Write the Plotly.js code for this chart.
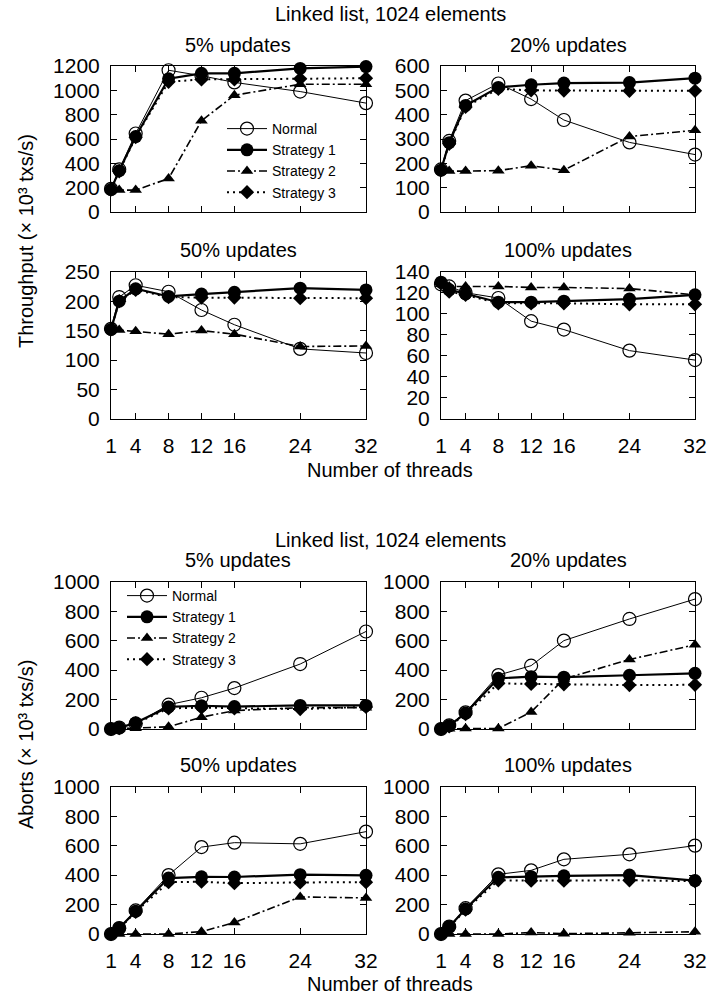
<!DOCTYPE html>
<html>
<head>
<meta charset="utf-8">
<script src="https://cdn.plot.ly/plotly-3.0.1.min.js"></script>
<style>html,body{margin:0;padding:0;background:#fff;} #chart{width:709px;height:1000px;}</style>
</head>
<body>
<div id="chart"></div>
<script>
// ---- data ----
const threads = [1, 2, 4, 8, 12, 16, 24, 32];
const threadTicks = [1, 4, 8, 12, 16, 24, 32];
const seriesNames = ["Normal", "Strategy 1", "Strategy 2", "Strategy 3"];

// Throughput (x10^3 txs/s)
const tp5_normal = [190, 350, 645, 1165, 1120, 1065, 990, 895];
const tp5_s1     = [185, 340, 620, 1095, 1140, 1140, 1180, 1195];
const tp5_s2     = [185, 180, 180, 275, 750, 960, 1050, 1050];
const tp5_s3     = [185, 335, 615, 1070, 1090, 1090, 1095, 1100];

const tp20_normal = [175, 292, 458, 528, 464, 378, 286, 236];
const tp20_s1     = [172, 285, 438, 512, 523, 530, 532, 550];
const tp20_s2     = [172, 168, 168, 170, 190, 172, 310, 336];
const tp20_s3     = [172, 280, 432, 506, 500, 499, 498, 498];

const tp50_normal = [153, 207, 227, 216, 185, 160, 119, 112];
const tp50_s1     = [152, 200, 221, 208, 212, 215, 222, 219];
const tp50_s2     = [152, 151, 149, 144, 150, 144, 123, 124];
const tp50_s3     = [152, 200, 219, 207, 206, 206, 205, 205];

const tp100_normal = [128, 126, 120, 115, 93, 85, 65, 56];
const tp100_s1     = [130, 123, 119, 111, 111, 112, 114, 118];
const tp100_s2     = [128, 126, 126, 126, 125, 125, 124, 118];
const tp100_s3     = [129, 121, 118, 110, 110, 110, 109, 109];

// Aborts (x10^3 txs/s)
const ab5_normal = [0, 10, 35, 165, 212, 278, 441, 662];
const ab5_s1     = [0, 8, 42, 150, 158, 152, 160, 160];
const ab5_s2     = [0, 2, 5, 15, 80, 125, 145, 145];
const ab5_s3     = [0, 6, 38, 140, 145, 140, 135, 150];

const ab20_normal = [0, 25, 113, 366, 430, 600, 747, 882];
const ab20_s1     = [0, 22, 108, 344, 355, 352, 365, 378];
const ab20_s2     = [0, 2, 3, 3, 115, 340, 472, 572];
const ab20_s3     = [0, 18, 102, 310, 306, 303, 298, 300];

const ab50_normal = [0, 40, 160, 400, 590, 620, 612, 695];
const ab50_s1     = [0, 40, 155, 380, 388, 387, 403, 398];
const ab50_s2     = [0, 0, 0, 0, 16, 78, 252, 245];
const ab50_s3     = [0, 35, 150, 352, 355, 345, 350, 352];

const ab100_normal = [0, 50, 175, 405, 432, 507, 541, 600];
const ab100_s1     = [0, 50, 170, 385, 389, 395, 400, 363];
const ab100_s2     = [0, 0, 0, 0, 10, 2, 8, 15];
const ab100_s3     = [0, 45, 165, 365, 362, 362, 365, 358];

const panelTitles = ["5% updates", "20% updates", "50% updates", "100% updates"];
const mainTitle = "Linked list, 1024 elements";
const xTitle = "Number of threads";
const yTitleTop = "Throughput (× 10³ txs/s)";
const yTitleBottom = "Aborts (× 10³ txs/s)";

// ---- layout helpers ----
const W = 709, H = 1000;
const px = v => v / W;
const py = v => 1 - v / H;
const FONT = "Liberation Sans, Arial, Helvetica, sans-serif";

const colDom = [[px(111), px(366)], [px(441), px(695)]];
const rowDom = [
  [py(212), py(66)],
  [py(419), py(271.7)],
  [py(729), py(581.7)],
  [py(934), py(786.7)]
];

const styles = [
  {mode: "lines+markers", line: {color: "black", width: 1}, marker: {symbol: "circle-open", size: 13, color: "black", line: {width: 1.2, color: "black"}}},
  {mode: "lines+markers", line: {color: "black", width: 2.2}, marker: {symbol: "circle", size: 13, color: "black"}},
  {mode: "lines+markers", line: {color: "black", width: 1.6, dash: "8px,3px,2px,3px"}, marker: {symbol: "triangle-up", size: 11, color: "black"}},
  {mode: "lines+markers", line: {color: "black", width: 2, dash: "2px,4px"}, marker: {symbol: "diamond", size: 11, color: "black"}}
];

// panels: [row, col, ymax, dtick, seriesArrays, title]
const panels = [
  [0, 0, 1200, 200, [tp5_normal, tp5_s1, tp5_s2, tp5_s3], panelTitles[0]],
  [0, 1, 600, 100, [tp20_normal, tp20_s1, tp20_s2, tp20_s3], panelTitles[1]],
  [1, 0, 250, 50, [tp50_normal, tp50_s1, tp50_s2, tp50_s3], panelTitles[2]],
  [1, 1, 140, 20, [tp100_normal, tp100_s1, tp100_s2, tp100_s3], panelTitles[3]],
  [2, 0, 1000, 200, [ab5_normal, ab5_s1, ab5_s2, ab5_s3], panelTitles[0]],
  [2, 1, 1000, 200, [ab20_normal, ab20_s1, ab20_s2, ab20_s3], panelTitles[1]],
  [3, 0, 1000, 200, [ab50_normal, ab50_s1, ab50_s2, ab50_s3], panelTitles[2]],
  [3, 1, 1000, 200, [ab100_normal, ab100_s1, ab100_s2, ab100_s3], panelTitles[3]]
];

const traces = [];
const layout = {
  width: W, height: H,
  margin: {l: 0, r: 0, t: 0, b: 0},
  paper_bgcolor: "white", plot_bgcolor: "white",
  font: {family: FONT, size: 20, color: "black"},
  showlegend: true,
  legend: {x: px(222), xanchor: "left", y: py(113), yanchor: "top", bgcolor: "rgba(0,0,0,0)", font: {size: 14}, itemwidth: 40, tracegroupgap: 0},
  legend2: {x: px(122), xanchor: "left", y: py(580), yanchor: "top", bgcolor: "rgba(0,0,0,0)", font: {size: 14}, itemwidth: 40, tracegroupgap: 0},
  annotations: []
};

panels.forEach((p, i) => {
  const [row, col, ymax, dtick, arrs, title] = p;
  const n = i + 1;
  const xk = n === 1 ? "x" : "x" + n;
  const yk = n === 1 ? "y" : "y" + n;
  const bottomRow = (row === 1 || row === 3);
  layout["xaxis" + (n === 1 ? "" : n)] = {
    domain: colDom[col], anchor: yk, range: [1, 32],
    tickmode: "array", tickvals: threadTicks, ticktext: threadTicks.map(String),
    ticks: "inside", ticklen: 6, tickcolor: "black", tickwidth: 1,
    showline: true, linecolor: "black", linewidth: 1, mirror: "ticks",
    showgrid: false, zeroline: false,
    showticklabels: bottomRow, tickfont: {size: 21, family: FONT}, ticklabelstandoff: 8,
    fixedrange: true
  };
  layout["yaxis" + (n === 1 ? "" : n)] = {
    domain: rowDom[row], anchor: xk, range: [0, ymax], dtick: dtick, tick0: 0,
    ticks: "inside", ticklen: 6, tickcolor: "black", tickwidth: 1,
    showline: true, linecolor: "black", linewidth: 1, mirror: "ticks",
    showgrid: false, zeroline: false,
    tickfont: {size: 21, family: FONT}, ticklabelstandoff: 6,
    fixedrange: true
  };
  const legendKey = row < 2 ? "legend" : "legend2";
  arrs.forEach((ys, s) => {
    const st = styles[s];
    traces.push({
      type: "scatter", x: threads, y: ys, xaxis: xk, yaxis: yk,
      name: seriesNames[s], mode: st.mode, line: st.line, marker: st.marker,
      cliponaxis: false, legend: legendKey,
      showlegend: (row === 0 || row === 2) && col === 0
    });
  });
  // panel title
  const cx = (colDom[col][0] + colDom[col][1]) / 2;
  const titleY = [45, 250, 560, 765][row];
  layout.annotations.push({
    xref: "paper", yref: "paper", x: cx, y: py(titleY), xanchor: "center", yanchor: "middle",
    text: title, showarrow: false, font: {size: 20}
  });
});

// group titles, axis titles
[[14, 470, 241, yTitleTop], [540, 984, 744, yTitleBottom]].forEach(g => {
  layout.annotations.push({xref: "paper", yref: "paper", x: px(390), y: py(g[0]), xanchor: "center", yanchor: "middle", text: mainTitle, showarrow: false, font: {size: 20}});
  layout.annotations.push({xref: "paper", yref: "paper", x: px(390), y: py(g[1]), xanchor: "center", yanchor: "middle", text: xTitle, showarrow: false, font: {size: 20}});
  layout.annotations.push({xref: "paper", yref: "paper", x: px(26), y: py(g[2]), xanchor: "center", yanchor: "middle", text: g[3], textangle: -90, showarrow: false, font: {size: 20}});
});

Plotly.newPlot("chart", traces, layout, {displayModeBar: false, staticPlot: true});
</script>
</body>
</html>
